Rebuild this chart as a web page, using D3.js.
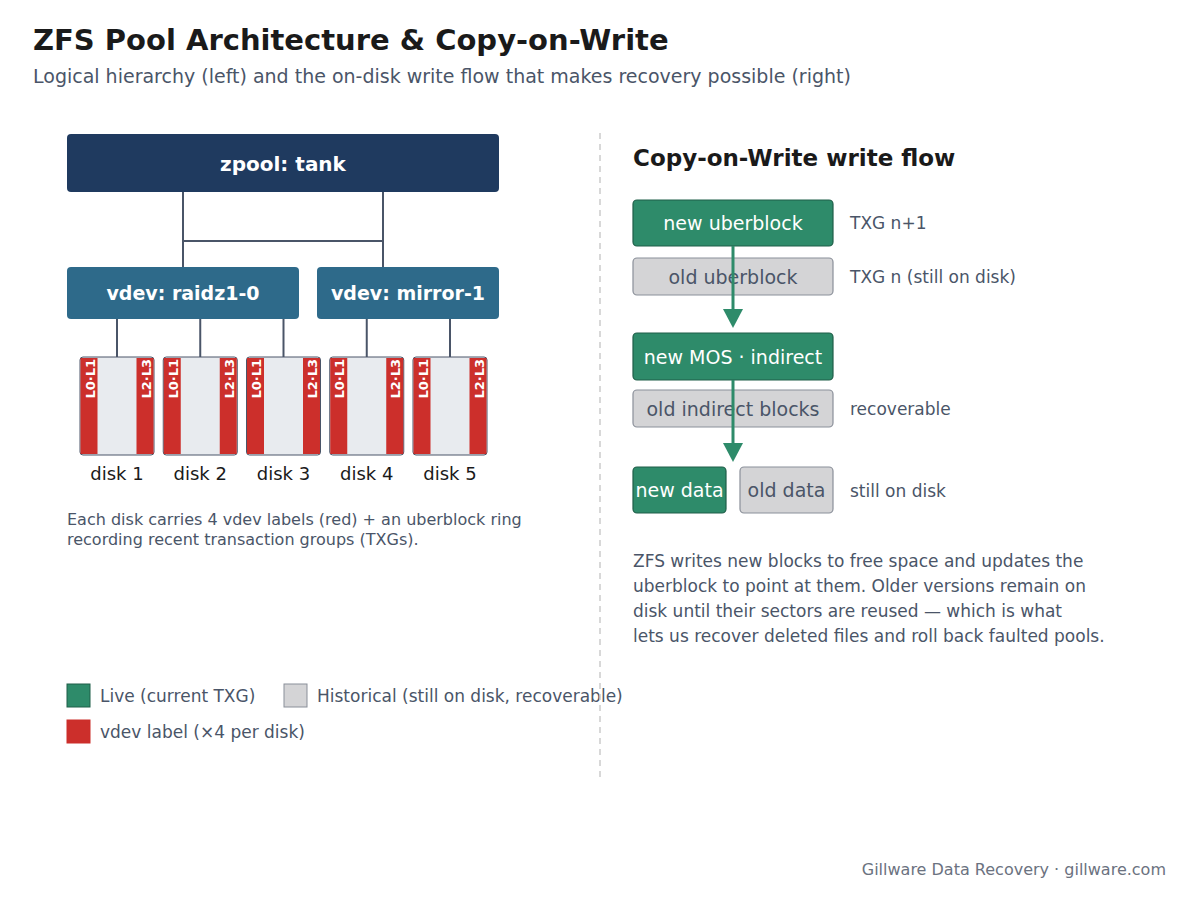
<!DOCTYPE html>
<html><head><meta charset="utf-8">
<script src="https://cdn.jsdelivr.net/npm/d3@7"></script>
<style>body{margin:0;background:#fff}svg{font-family:"DejaVu Sans",sans-serif}</style>
</head><body><svg id="c" width="1200" height="900"></svg>
<script>
const pool = {name:"zpool: tank"};
const vdevs = ["vdev: raidz1-0","vdev: mirror-1"];
const disks = ["disk 1","disk 2","disk 3","disk 4","disk 5"];
const diskVdev = [0,0,0,1,1];
const labelPairs = ["L0·L1","L2·L3"];
const flowRows = [
  {text:"new uberblock",live:true,note:"TXG n+1"},
  {text:"old uberblock",live:false,note:"TXG n (still on disk)"},
  {text:"new MOS · indirect",live:true,note:""},
  {text:"old indirect blocks",live:false,note:"recoverable"}
];
const dataRow = [{text:"new data",live:true},{text:"old data",live:false}];
const dataNote = "still on disk";
const noteLines = ["Each disk carries 4 vdev labels (red) + an uberblock ring","recording recent transaction groups (TXGs)."];
const paraLines = ["ZFS writes new blocks to free space and updates the","uberblock to point at them. Older versions remain on","disk until their sectors are reused — which is what","lets us recover deleted files and roll back faulted pools."];
const legendItems = [{k:"live",t:"Live (current TXG)"},{k:"hist",t:"Historical (still on disk, recoverable)"},{k:"label",t:"vdev label (×4 per disk)"}];

const C={navy:"#1f3a5f",teal:"#2e6a8a",green:"#2e8b6a",gray:"#d4d4d6",grayS:"#8a8f99",red:"#cc2f2b",line:"#4a5568",text:"#4a5568",dark:"#1a1a1a"};
const svg=d3.select("#c");
svg.append("text").attr("x",33).attr("y",50).attr("font-size",29).attr("font-weight","bold").attr("fill",C.dark).text("ZFS Pool Architecture & Copy-on-Write");
svg.append("text").attr("x",33).attr("y",83).attr("font-size",19).attr("fill",C.text).text("Logical hierarchy (left) and the on-disk write flow that makes recovery possible (right)");

// left
const L=svg.append("g");
L.append("rect").attr("x",67).attr("y",134).attr("width",432).attr("height",58).attr("rx",4).attr("fill",C.navy);
L.append("text").attr("x",283).attr("y",171).attr("text-anchor","middle").attr("fill","#fff").attr("font-size",20).attr("font-weight","bold").text(pool.name);
const vx=[{x:67,w:232},{x:317,w:182}];
const stem=[183,383];
stem.forEach(s=>L.append("line").attr("x1",s).attr("x2",s).attr("y1",192).attr("y2",267).attr("stroke",C.line).attr("stroke-width",2));
L.append("line").attr("x1",183).attr("x2",383).attr("y1",241).attr("y2",241).attr("stroke",C.line).attr("stroke-width",2);
vdevs.forEach((v,i)=>{
  L.append("rect").attr("x",vx[i].x).attr("y",267).attr("width",vx[i].w).attr("height",52).attr("rx",4).attr("fill",C.teal);
  L.append("text").attr("x",vx[i].x+vx[i].w/2).attr("y",300).attr("text-anchor","middle").attr("fill","#fff").attr("font-size",19).attr("font-weight","bold").text(v);
});
const dx=d3.scalePoint().domain(disks).range([117,450]);
disks.forEach((d,i)=>{
  const cx=dx(d), x0=cx-37;
  L.append("line").attr("x1",cx).attr("x2",cx).attr("y1",319).attr("y2",357).attr("stroke",C.line).attr("stroke-width",2);
  L.append("rect").attr("x",x0).attr("y",357).attr("width",74).attr("height",98).attr("rx",3).attr("fill","#e8ebef").attr("stroke",C.line).attr("stroke-width",1);
  [x0+0.5,x0+74-17.5].forEach((sx,j)=>{
    L.append("rect").attr("x",sx).attr("y",358).attr("width",17).attr("height",96).attr("fill",C.red);
    L.append("text").attr("transform",`translate(${sx+14},359) rotate(-90)`).attr("text-anchor","end").attr("fill","#fff").attr("font-size",13).attr("font-weight","bold").text(labelPairs[j]);
  });
  L.append("text").attr("x",cx).attr("y",480).attr("text-anchor","middle").attr("font-size",18).attr("fill",C.dark).text(d);
});
noteLines.forEach((t,i)=>L.append("text").attr("x",67).attr("y",525+i*20).attr("font-size",16).attr("fill",C.text).text(t));

// legend
const lg=[{x:67,y:684,c:C.green,s:"#1f5e48"},{x:284,y:684,c:C.gray,s:C.grayS},{x:67,y:720,c:C.red,s:C.red}];
legendItems.forEach((it,i)=>{
  svg.append("rect").attr("x",lg[i].x).attr("y",lg[i].y).attr("width",23).attr("height",23).attr("fill",lg[i].c).attr("stroke",lg[i].s);
  svg.append("text").attr("x",lg[i].x+33).attr("y",lg[i].y+18).attr("font-size",17).attr("fill",C.text).text(it.t);
});

// divider
svg.append("line").attr("x1",600).attr("x2",600).attr("y1",133).attr("y2",780).attr("stroke","#cccccc").attr("stroke-dasharray","6,5").attr("stroke-width",1.5);

// right
svg.append("text").attr("x",633).attr("y",166).attr("font-size",23).attr("font-weight","bold").attr("fill",C.dark).text("Copy-on-Write write flow");
const rowY=[200,258,333,390], rowH=[46,37,47,37];
const R=svg.append("g");
function box(x,y,w,h,live,t){
  R.append("rect").attr("x",x).attr("y",y).attr("width",w).attr("height",h).attr("rx",4).attr("fill",live?C.green:C.gray).attr("stroke",live?"#1f5e48":C.grayS).attr("stroke-width",1.2);
  R.append("text").attr("x",x+w/2).attr("y",y+h/2+7).attr("text-anchor","middle").attr("font-size",19).attr("fill",live?"#fff":"#4a5568").text(t);
}
flowRows.forEach((r,i)=>{
  box(633,rowY[i],200,rowH[i],r.live,r.text);
  if(r.note) R.append("text").attr("x",850).attr("y",rowY[i]+rowH[i]/2+6).attr("font-size",17).attr("fill",C.text).text(r.note);
});
box(633,467,93,46,dataRow[0].live,dataRow[0].text);
box(740,467,93,46,dataRow[1].live,dataRow[1].text);
R.append("text").attr("x",850).attr("y",497).attr("font-size",17).attr("fill",C.text).text(dataNote);
[[246,309],[380,443]].forEach(([a,b])=>{
  R.append("line").attr("x1",733).attr("x2",733).attr("y1",a).attr("y2",b).attr("stroke",C.green).attr("stroke-width",3);
  R.append("path").attr("d",`M723,${b} L743,${b} L733,${b+19} Z`).attr("fill",C.green);
});
paraLines.forEach((t,i)=>svg.append("text").attr("x",633).attr("y",567+i*25).attr("font-size",17).attr("fill",C.text).text(t));
svg.append("text").attr("x",1166).attr("y",875).attr("text-anchor","end").attr("font-size",16).attr("fill","#6b7280").text("Gillware Data Recovery · gillware.com");
</script></body></html>
